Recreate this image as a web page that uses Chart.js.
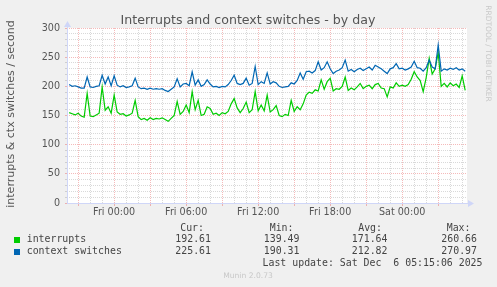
<!DOCTYPE html>
<html>
<head>
<meta charset="utf-8">
<script src="https://cdn.jsdelivr.net/npm/chart.js@4.4.1/dist/chart.umd.min.js"></script>
<style>
  html, body { margin: 0; padding: 0; background: #f0f0f0; }
  canvas { display: block; }
</style>
</head>
<body>
<canvas id="chart" width="497" height="287"></canvas>
<script>
  // samples every 15 min, hours relative to Fri 00:00
  const hourStart = -3.75;
  const hourStep = 0.25;
  const xMin = -3.93;
  const xMax = 29.4;

  const interrupts = [
    155, 153, 151, 154, 149, 147, 188, 149, 148, 151, 154, 199, 159, 165, 154, 185,
    156, 152, 153, 149, 151, 154, 176, 148, 143, 145, 142, 146, 143, 145, 144, 146,
    143, 140, 145, 150, 174, 152, 157, 168, 155, 191, 160, 176, 150, 152, 165, 162,
    152, 154, 150, 155, 153, 157, 170, 179, 163, 155, 162, 173, 155, 160, 191, 158,
    168, 158, 185, 156, 160, 167, 150, 148, 152, 150, 176, 157, 165, 160, 170, 185,
    190, 188, 194, 192, 211, 195, 208, 214, 192, 196, 195, 200, 216, 193, 197, 194,
    199, 205, 196, 200, 202, 196, 203, 205, 197, 196, 182, 199, 197, 206, 200, 202,
    200, 203, 212, 225, 216, 210, 191, 215, 248, 221, 230, 258, 200, 205, 199, 206,
    201, 204, 198, 218, 193
  ];
  const ctxSwitches = [
    203, 200, 201, 199, 197, 197, 216, 199, 198, 200, 201, 219, 204, 216, 201, 218,
    202, 199, 201, 198, 199, 201, 214, 199, 196, 197, 195, 197, 195, 196, 195, 196,
    193, 191, 195, 199, 213, 199, 204, 205, 201, 225, 202, 211, 200, 203, 211, 204,
    199, 200, 198, 200, 199, 203, 210, 219, 205, 203, 205, 214, 202, 205, 234, 203,
    208, 205, 223, 204, 208, 206, 200, 198, 199, 200, 206, 204, 210, 223, 212, 225,
    226, 223, 227, 242, 228, 232, 242, 230, 222, 226, 228, 232, 245, 226, 229, 225,
    229, 231, 227, 230, 233, 228, 236, 233, 230, 226, 222, 230, 232, 239, 230, 231,
    228, 230, 233, 243, 232, 231, 226, 232, 245, 233, 230, 271, 226, 230, 228, 231,
    229, 232, 228, 230, 226
  ];

  const seriesNames = ['interrupts', 'context switches'];
  const seriesColors = ['#00CC00', '#0066B3'];
  const statCur = ['192.61', '225.61'];
  const statMin = ['139.49', '190.31'];
  const statAvg = ['171.64', '212.82'];
  const statMax = ['260.66', '270.97'];

  const xTickHours = [0, 6, 12, 18, 24];
  const xTickLabels = ['Fri 00:00', 'Fri 06:00', 'Fri 12:00', 'Fri 18:00', 'Sat 00:00'];
  const yTickValues = [0, 50, 100, 150, 200, 250, 300];

  const MAJOR = 'rgba(230,90,90,0.42)';
  const MINOR = 'rgba(150,150,150,0.36)';
  const AXIS = '#CFD6F8';
  const TXT = '#555';

  function toPoints(vals) {
    return vals.map((v, i) => ({ x: hourStart + i * hourStep, y: v }));
  }

  const decor = {
    id: 'decor',
    beforeDraw(chart) {
      const { ctx, chartArea: a } = chart;
      ctx.save();
      ctx.fillStyle = '#f0f0f0';
      ctx.fillRect(0, 0, chart.width, chart.height);
      ctx.fillStyle = '#fff';
      ctx.fillRect(a.left, a.top, a.right - a.left, a.bottom - a.top);
      ctx.restore();
    },
    afterDraw(chart) {
      const { ctx, chartArea: a } = chart;
      ctx.save();
      // axes + arrows
      ctx.strokeStyle = AXIS;
      ctx.fillStyle = AXIS;
      ctx.lineWidth = 1;
      ctx.beginPath();
      ctx.moveTo(a.left + 0.5, a.bottom + 0.5);
      ctx.lineTo(a.left + 0.5, a.top - 5);
      ctx.moveTo(a.left, a.bottom + 0.5);
      ctx.lineTo(a.right + 2, a.bottom + 0.5);
      ctx.stroke();
      ctx.beginPath();
      ctx.moveTo(a.left - 3, a.top - 1);
      ctx.lineTo(a.left + 4, a.top - 1);
      ctx.lineTo(a.left + 0.5, a.top - 7);
      ctx.closePath();
      ctx.fill();
      ctx.beginPath();
      ctx.moveTo(a.right + 1, a.bottom - 3);
      ctx.lineTo(a.right + 1, a.bottom + 4);
      ctx.lineTo(a.right + 7, a.bottom + 0.5);
      ctx.closePath();
      ctx.fill();

      // title
      ctx.fillStyle = TXT;
      ctx.font = '12.6px "DejaVu Sans"';
      ctx.textAlign = 'center';
      ctx.textBaseline = 'alphabetic';
      ctx.fillText('Interrupts and context switches - by day', 248, 24);

      // vertical axis title
      ctx.save();
      ctx.translate(11, 114);
      ctx.rotate(-Math.PI / 2);
      ctx.font = '11px "DejaVu Sans"';
      ctx.textBaseline = 'middle';
      ctx.fillText('interrupts & ctx switches / second', 0, 0);
      ctx.restore();

      // rrdtool tag
      ctx.save();
      ctx.translate(487.5, 53.5);
      ctx.rotate(Math.PI / 2);
      ctx.fillStyle = '#c8c8c8';
      ctx.font = '7.5px "DejaVu Sans"';
      ctx.textBaseline = 'middle';
      ctx.fillText('RRDTOOL / TOBI OETIKER', 0, 0);
      ctx.restore();

      // legend table
      ctx.font = '9.9px "DejaVu Sans Mono"';
      ctx.textBaseline = 'middle';
      ctx.fillStyle = '#444';
      ctx.textAlign = 'right';
      ctx.fillText('Cur:', 204, 228);
      ctx.fillText('Min:', 293.5, 228);
      ctx.fillText('Avg:', 382, 228);
      ctx.fillText('Max:', 470.5, 228);
      const rows = [239.5, 251.7];
      seriesNames.forEach((name, i) => {
        const y = rows[i];
        ctx.fillStyle = seriesColors[i];
        ctx.fillRect(14, Math.round(y) - 3, 6, 6);
        ctx.fillStyle = '#444';
        ctx.textAlign = 'left';
        ctx.fillText(name, 26.7, y);
        ctx.textAlign = 'right';
        ctx.fillText(statCur[i], 211, y);
        ctx.fillText(statMin[i], 299.5, y);
        ctx.fillText(statAvg[i], 387.5, y);
        ctx.fillText(statMax[i], 477, y);
      });
      ctx.fillText('Last update: Sat Dec  6 05:15:06 2025', 482.5, 263.7);

      ctx.textAlign = 'center';
      ctx.fillStyle = '#c8c8c8';
      ctx.font = '7.6px "DejaVu Sans"';
      ctx.fillText('Munin 2.0.73', 248, 276);
      ctx.restore();
    }
  };

  new Chart(document.getElementById('chart'), {
    type: 'line',
    data: {
      datasets: [
        { label: seriesNames[0], data: toPoints(interrupts), borderColor: seriesColors[0], order: 2 },
        { label: seriesNames[1], data: toPoints(ctxSwitches), borderColor: seriesColors[1], order: 1 }
      ]
    },
    options: {
      responsive: false,
      animation: false,
      events: [],
      layout: { padding: { left: 0, top: 28, right: 30, bottom: 0 } },
      elements: {
        line: { borderWidth: 1.2, tension: 0, fill: false },
        point: { radius: 0 }
      },
      plugins: { legend: { display: false }, tooltip: { enabled: false } },
      scales: {
        x: {
          type: 'linear',
          min: xMin,
          max: xMax,
          afterBuildTicks(s) {
            const t = [];
            for (let h = Math.ceil(xMin); h <= Math.floor(xMax); h++) t.push({ value: h });
            s.ticks = t;
          },
          afterFit(s) { s.height = 84; },
          grid: {
            color: c => (c.tick && c.tick.value % 3 === 0 ? MAJOR : MINOR),
            tickColor: c => (c.tick && c.tick.value % 3 === 0 ? MAJOR : 'rgba(0,0,0,0)'),
            tickLength: 3,
            lineWidth: 1
          },
          border: { display: false, dash: [1, 1] },
          ticks: {
            padding: 1,
            autoSkip: false,
            maxRotation: 0,
            color: TXT,
            font: { family: 'DejaVu Sans', size: 9.6 },
            callback(v) {
              const k = xTickHours.indexOf(v);
              return k >= 0 ? xTickLabels[k] : '';
            }
          }
        },
        y: {
          min: 0,
          max: 300,
          afterFit(s) { s.width = 67; },
          grid: {
            color: c => (c.tick && c.tick.value % 50 === 0 ? MAJOR : MINOR),
            tickColor: c => (c.tick && c.tick.value % 50 === 0 ? MAJOR : MINOR),
            tickLength: 2,
            lineWidth: 1
          },
          border: { display: false, dash: [1, 1] },
          ticks: {
            stepSize: 10,
            autoSkip: false,
            padding: 5,
            color: TXT,
            font: { family: 'DejaVu Sans', size: 9.6 },
            callback(v) { return yTickValues.includes(v) ? String(v) : ''; }
          }
        }
      }
    },
    plugins: [decor]
  });
</script>
</body>
</html>
